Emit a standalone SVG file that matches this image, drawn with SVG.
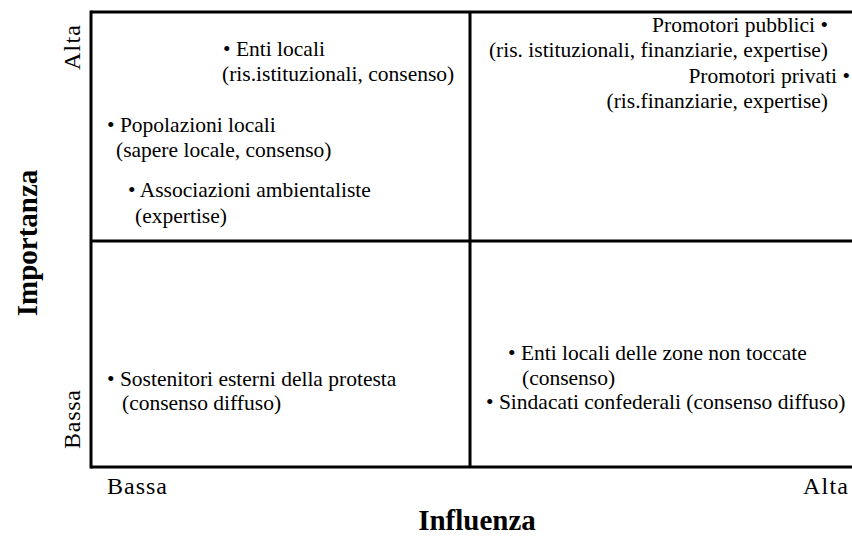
<svg xmlns="http://www.w3.org/2000/svg" width="852" height="536" viewBox="0 0 852 536">
  <style>
    .t { font-family: "Liberation Serif", "Times New Roman", serif; font-size: 21.5px; fill: #000; }
    .ax { font-family: "Liberation Serif", "Times New Roman", serif; font-size: 24px; fill: #000; }
    .title { font-family: "Liberation Serif", "Times New Roman", serif; font-size: 29px; font-weight: bold; fill: #000; }
    .grid { stroke: #000; stroke-width: 3; fill: none; }
  </style>
  <rect width="852" height="536" fill="#fff"/>

  <!-- quadrant grid -->
  <g id="connectors">
    <line class="grid" x1="91" y1="12" x2="852" y2="12"/>
    <line class="grid" x1="91" y1="241" x2="852" y2="241"/>
    <line class="grid" x1="91" y1="467" x2="852" y2="467"/>
    <line class="grid" x1="91" y1="10.5" x2="91" y2="468.5"/>
    <line class="grid" x1="470" y1="12" x2="470" y2="467"/>
  </g>

  <!-- axis labels -->
  <g id="axis-y">
    <text class="title" transform="translate(37,243) rotate(-90)" text-anchor="middle">Importanza</text>
    <text class="ax" transform="translate(80,70) rotate(-90)" textLength="45" lengthAdjust="spacing">Alta</text>
    <text class="ax" transform="translate(80,449) rotate(-90)" textLength="59" lengthAdjust="spacing">Bassa</text>
  </g>
  <g id="axis-x">
    <text class="ax" x="107" y="494" textLength="60" lengthAdjust="spacing">Bassa</text>
    <text class="ax" x="848" y="494" text-anchor="end" textLength="45" lengthAdjust="spacing">Alta</text>
    <text class="title" x="477" y="530" text-anchor="middle">Influenza</text>
  </g>

  <!-- high importance, low influence -->
  <g id="enti-locali">
    <text class="t" x="223" y="56">• Enti locali</text>
    <text class="t" x="222" y="81">(ris.istituzionali, consenso)</text>
  </g>
  <g id="popolazioni-locali">
    <text class="t" x="107" y="132">• Popolazioni locali</text>
    <text class="t" x="116" y="157">(sapere locale, consenso)</text>
  </g>
  <g id="associazioni-ambientaliste">
    <text class="t" x="128" y="197">• Associazioni ambientaliste</text>
    <text class="t" x="135" y="223">(expertise)</text>
  </g>

  <!-- high importance, high influence -->
  <g id="promotori-pubblici">
    <text class="t" x="828" y="32" text-anchor="end">Promotori pubblici •</text>
    <text class="t" x="828" y="57" text-anchor="end">(ris. istituzionali, finanziarie, expertise)</text>
  </g>
  <g id="promotori-privati">
    <text class="t" x="850" y="83" text-anchor="end">Promotori privati •</text>
    <text class="t" x="828" y="108" text-anchor="end">(ris.finanziarie, expertise)</text>
  </g>

  <!-- low importance, low influence -->
  <g id="sostenitori-esterni">
    <text class="t" x="107" y="386">• Sostenitori esterni della protesta</text>
    <text class="t" x="122" y="410">(consenso diffuso)</text>
  </g>

  <!-- low importance, high influence -->
  <g id="enti-locali-zone-non-toccate">
    <text class="t" x="508" y="360">• Enti locali delle zone non toccate</text>
    <text class="t" x="522" y="385">(consenso)</text>
  </g>
  <g id="sindacati-confederali">
    <text class="t" x="486" y="409">• Sindacati confederali (consenso diffuso)</text>
  </g>
</svg>
